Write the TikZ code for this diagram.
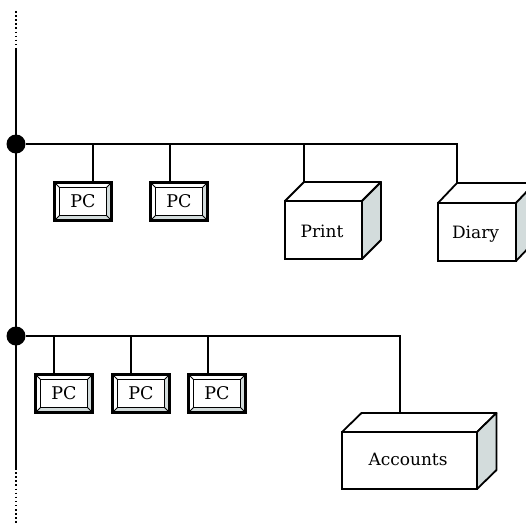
\documentclass[tikz,border=0pt]{standalone}
\usepackage{fontspec}
\setmainfont{DejaVu Serif}
\usetikzlibrary{positioning, calc}
\definecolor{sidegrey}{HTML}{D3DCDC}

\begin{document}
\begin{tikzpicture}[
    x=1pt, y=-1pt,
    % Line styles
    busline/.style={draw, line width=1.8pt},
    dotline/.style={draw, line width=1.6pt, dash pattern=on 1.5pt off 2.6pt},
    hubdot/.style={circle, fill, inner sep=0pt, minimum size=19pt},
    % Box styles
    pcbox/.style={draw, line width=2.2pt, minimum width=57pt, minimum height=38pt, font=\fontsize{17.5}{18}\selectfont},
    sideface/.style={draw, line width=1.8pt, line join=round, fill=sidegrey},
    topface/.style={draw, line width=1.8pt, line join=round, fill=white},
    bevel/.style={line width=1pt}
]
\useasboundingbox (0,0) rectangle (526,525);

% Backbone and junctions
\coordinate (bone_top) at (16,48);
\coordinate (bone_bot) at (16,468);
\coordinate (dot_top) at (16,11);
\coordinate (dot_bot) at (16,525);
\node[hubdot] (hub1) at (16,144) {};
\node[hubdot] (hub2) at (16,336) {};
\draw[busline] (bone_top) -- (bone_bot);
\draw[dotline] (dot_top) -- (bone_top);
\draw[dotline] (bone_bot) -- (dot_bot);

% PC boxes
\foreach \name/\cx/\cy in {pc1/83/201.5, pc2/179/201.5, pc3/64/393.5, pc4/141/393.5, pc5/217/393.5} {
    \node[pcbox, fill=white] (\name) at (\cx,\cy) {};
    \coordinate (\name_inw) at ([shift={(6,6)}]\name.north west);
    \coordinate (\name_ine) at ([shift={(-6,6)}]\name.north east);
    \coordinate (\name_isw) at ([shift={(6,-6)}]\name.south west);
    \coordinate (\name_ise) at ([shift={(-6,-6)}]\name.south east);
    % Shaded bevel on right and bottom
    \fill[sidegrey] (\name.north east) -- (\name.south east) -- (\name.south west) -- (\name_isw) -- (\name_ise) -- (\name_ine) -- cycle;
    \draw[line width=1.6pt] (\name_inw) rectangle (\name_ise);
    \draw[bevel] (\name.north west) -- (\name_inw);
    \draw[bevel] (\name.north east) -- (\name_ine);
    \draw[bevel] (\name.south west) -- (\name_isw);
    \draw[bevel] (\name.south east) -- (\name_ise);
    \node[pcbox] at (\name) {PC};
}

% Cubes
\foreach \name/\lx/\ly/\rx/\ry/\dx/\dy/\ty/\txt in {print/285/201/362/259/19/19/1/Print, diary/438/203/516/261/19/20/2/Diary, accounts/342/432/477/489/19.5/19/-1/Accounts} {
    \coordinate (\name_nw) at (\lx,\ly);
    \coordinate (\name_ne) at (\rx,\ly);
    \coordinate (\name_se) at (\rx,\ry);
    \coordinate (\name_bnw) at ($(\name_nw)+(\dx,-\dy)$);
    \coordinate (\name_bne) at ($(\name_ne)+(\dx,-\dy)$);
    \coordinate (\name_bse) at ($(\name_se)+(\dx,-\dy)$);
    \path[topface] (\name_nw) -- (\name_bnw) -- (\name_bne) -- (\name_ne) -- cycle;
    \path[sideface] (\name_ne) -- (\name_bne) -- (\name_bse) -- (\name_se) -- cycle;
    \draw[line width=1.8pt, fill=white] (\name_nw) rectangle (\name_se);
    \node[font=\fontsize{17}{18}\selectfont] (\name) at ($(\name_nw)!0.5!(\name_se)+(-1.5,\ty)$) {\txt};
}

% Buses
\coordinate (drop_acc) at ($(accounts_bnw)!0.283!(accounts_bne)$);
\draw[busline] (hub1) -- (hub1 -| diary_bnw) -- (diary_bnw);
\draw[busline] (hub2) -- (hub2 -| drop_acc) -- (drop_acc);
\draw[busline] (hub1 -| print_bnw) -- (print_bnw);

% Drops to PC boxes
\foreach \name/\dropx in {pc1/93, pc2/170} {
    \coordinate (\name_top) at (\dropx,182.5);
    \draw[busline] (hub1 -| \name_top) -- (\name_top);
}
\foreach \name/\dropx in {pc3/54, pc4/131, pc5/208} {
    \coordinate (\name_top) at (\dropx,374.5);
    \draw[busline] (hub2 -| \name_top) -- (\name_top);
}
\end{tikzpicture}
\end{document}
